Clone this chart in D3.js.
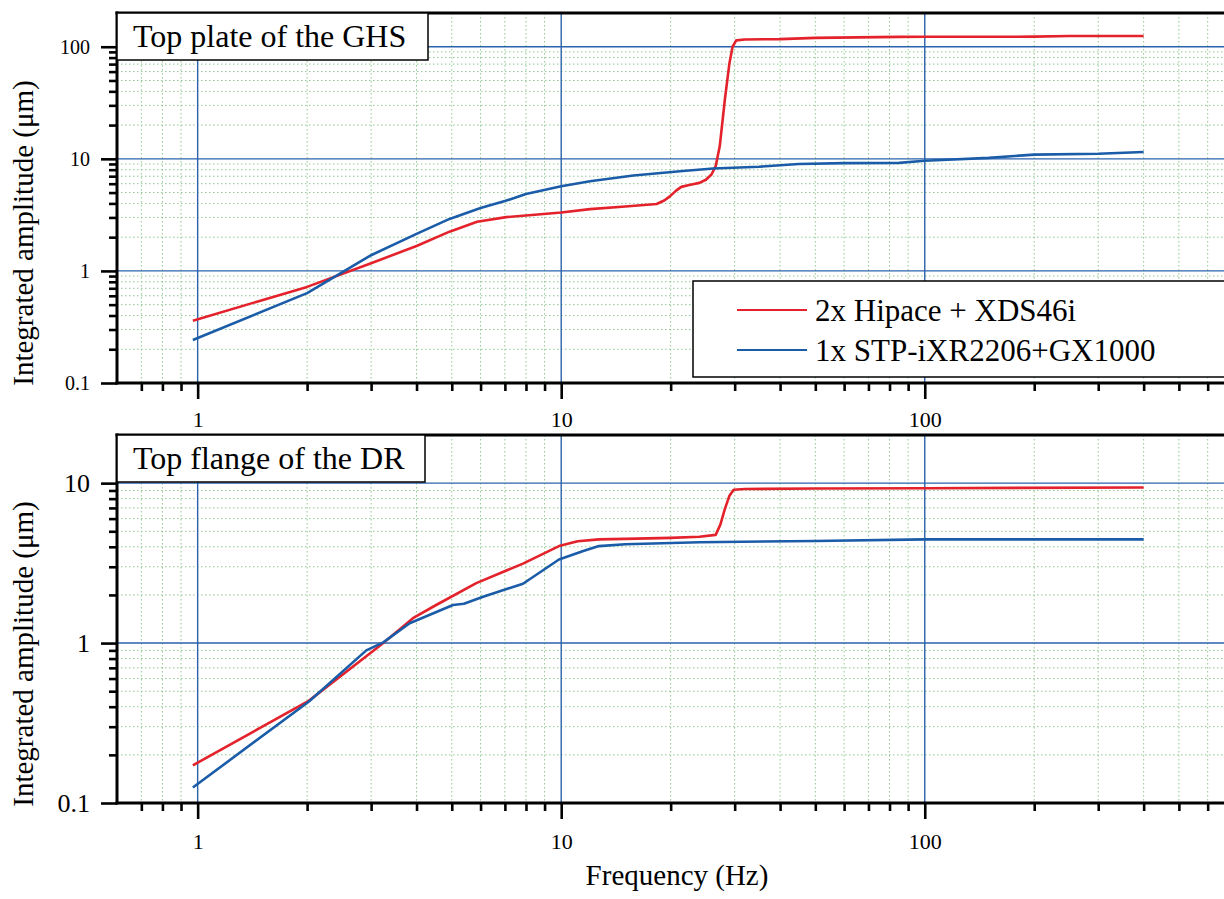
<!DOCTYPE html>
<html><head><meta charset="utf-8">
<script src="https://cdn.jsdelivr.net/npm/d3@7/dist/d3.min.js"></script>
<style>body{margin:0;background:#fff}svg{display:block}</style>
</head><body><svg id="c" width="1224" height="899"></svg>
<script>
// ---------- data ----------
const seriesNames = ["2x Hipace + XDS46i", "1x STP-iXR2206+GX1000"];
const seriesColors = ["#e3222c", "#1b5ca8"];
const xTickLabels = ["1", "10", "100"];
const topYTickLabels = ["0.1", "1", "10", "100"];
const botYTickLabels = ["0.1", "1", "10"];
const topPanelTitle = "Top plate of the GHS";
const botPanelTitle = "Top flange of the DR";
const xTitle = "Frequency (Hz)";
const yTitle = "Integrated amplitude (\u03bcm)";

// Top panel (GHS)
const topRedFreq = [0.97, 2, 3, 4, 4.93, 5.87, 7.06, 8, 10, 12, 15, 18.3, 19.2, 19.9, 20.7, 21.4, 22.5, 24, 25, 25.9, 26.6, 27.3, 28.2, 29, 29.6, 30.3, 32, 40, 50, 85, 100, 200, 250, 400];
const topRedAmp  = [0.36, 0.72, 1.17, 1.67, 2.24, 2.75, 3.02, 3.12, 3.32, 3.56, 3.75, 3.95, 4.25, 4.62, 5.2, 5.62, 5.85, 6.1, 6.5, 7.25, 8.6, 13, 34, 70, 100, 114, 116, 117, 120, 122.5, 122.7, 123, 124.5, 124.8];
const topBlueFreq = [0.97, 2, 3, 4, 4.93, 6, 7, 8, 10, 12, 15.8, 21.6, 26.2, 35, 45, 60, 85, 100, 150, 200, 300, 400];
const topBlueAmp  = [0.242, 0.634, 1.38, 2.14, 2.91, 3.64, 4.2, 4.86, 5.69, 6.3, 7.1, 7.8, 8.2, 8.5, 9.0, 9.15, 9.2, 9.6, 10.2, 10.9, 11.1, 11.5];

// Bottom panel (DR)
const botRedFreq = [0.97, 2.02, 2.97, 3.24, 3.91, 4.53, 5.84, 7.85, 9.86, 11.1, 12.7, 15, 20, 24, 26.6, 27.4, 28.2, 29, 29.8, 32, 50, 100, 400];
const botRedAmp  = [0.172, 0.435, 0.857, 1.0, 1.43, 1.73, 2.37, 3.14, 4.04, 4.33, 4.45, 4.48, 4.55, 4.62, 4.75, 5.5, 6.9, 8.3, 9.1, 9.2, 9.25, 9.3, 9.4];
const botBlueFreq = [0.97, 2.02, 2.91, 3.24, 3.83, 5.04, 5.4, 6.1, 7.85, 9.86, 11.5, 12.7, 15, 24, 50, 100, 400];
const botBlueAmp  = [0.125, 0.43, 0.90, 1.01, 1.33, 1.73, 1.76, 1.95, 2.35, 3.33, 3.76, 4.04, 4.15, 4.27, 4.35, 4.45, 4.45];

// ---------- drawing ----------
const svg = d3.select("#c");
svg.append("rect").attr("width", 1224).attr("height", 899).attr("fill", "#fff");
const FONT = "'Liberation Serif','Times New Roman',serif";

const x = d3.scaleLog().domain([0.6, 700]).range([117, 1232]);
const xMajor = xTickLabels.map(Number);
const xMinor = x.ticks().filter(v => !xMajor.includes(v) && v > 0.6);

function styleAxis(a, size) {
  a.selectAll(".domain").remove();
  a.selectAll(".tick line").attr("stroke", "#000").attr("stroke-width", 2.6);
  a.selectAll("text").attr("font-family", FONT).attr("font-size", size).attr("fill", "#000");
}

function panel(opts) {
  const {y, yLabels, series, title, titleBox, yLabelSize, xLabelPad, id, legend} = opts;
  const [yb, yt] = y.range();
  const L = x.range()[0], R = x.range()[1];
  const g = svg.append("g");
  const yMajor = yLabels.map(Number);
  const yMinor = y.ticks().filter(v => !yMajor.includes(v) && v < y.domain()[1]);

  // minor grid
  g.append("g").selectAll("line").data(xMinor).join("line")
    .attr("x1", d => x(d)).attr("x2", d => x(d)).attr("y1", yt).attr("y2", yb)
    .attr("stroke", "#8fc68f").attr("stroke-width", 1).attr("stroke-dasharray", "1.5,2.5");
  g.append("g").selectAll("line").data(yMinor).join("line")
    .attr("x1", L).attr("x2", R).attr("y1", d => y(d)).attr("y2", d => y(d))
    .attr("stroke", "#8fc68f").attr("stroke-width", 1).attr("stroke-dasharray", "1.5,2.5");
  // major grid
  g.append("g").selectAll("line").data(xMajor).join("line")
    .attr("x1", d => x(d)).attr("x2", d => x(d)).attr("y1", yt).attr("y2", yb)
    .attr("stroke", "#2a62ab").attr("stroke-width", 1.4);
  g.append("g").selectAll("line").data(yMajor.filter(v => v > y.domain()[0])).join("line")
    .attr("x1", L).attr("x2", R).attr("y1", d => y(d)).attr("y2", d => y(d))
    .attr("stroke", "#2a62ab").attr("stroke-width", 1.4);

  // data
  svg.append("clipPath").attr("id", id).append("rect")
    .attr("x", L).attr("y", yt).attr("width", R - L).attr("height", yb - yt);
  const line = d3.line().x(d => x(d[0])).y(d => y(d[1]));
  const dg = g.append("g").attr("clip-path", `url(#${id})`);
  series.forEach((s, i) => {
    dg.append("path").datum(d3.zip(s.f, s.a)).attr("d", line)
      .attr("fill", "none").attr("stroke", seriesColors[i]).attr("stroke-width", 2.6)
      .attr("stroke-linejoin", "round");
  });

  // axes (minor and major in separate groups)
  const axMin = g.append("g").attr("transform", `translate(0,${yb})`)
    .call(d3.axisBottom(x).tickValues(xMinor).tickSize(8).tickFormat(""));
  const axMaj = g.append("g").attr("transform", `translate(0,${yb})`)
    .call(d3.axisBottom(x).tickValues(xMajor).tickSize(16).tickPadding(xLabelPad).tickFormat((d, i) => xTickLabels[i]));
  const ayMin = g.append("g").attr("transform", `translate(${L},0)`)
    .call(d3.axisLeft(y).tickValues(yMinor).tickSize(8).tickFormat(""));
  const ayMaj = g.append("g").attr("transform", `translate(${L},0)`)
    .call(d3.axisLeft(y).tickValues(yMajor).tickSize(16).tickPadding(11).tickFormat((d, i) => yLabels[i]));
  styleAxis(axMin, 22); styleAxis(axMaj, 22);
  styleAxis(ayMin, yLabelSize); styleAxis(ayMaj, yLabelSize);

  // frame
  g.append("line").attr("x1", L - 1.5).attr("x2", R).attr("y1", yb).attr("y2", yb).attr("stroke", "#000").attr("stroke-width", 3);
  g.append("line").attr("x1", L - 1.5).attr("x2", R).attr("y1", yt).attr("y2", yt).attr("stroke", "#000").attr("stroke-width", 3);
  g.append("line").attr("x1", L).attr("x2", L).attr("y1", yt - 1.5).attr("y2", yb + 1.5).attr("stroke", "#000").attr("stroke-width", 3);

  // title box
  g.append("rect").attr("x", L).attr("y", yt).attr("width", titleBox).attr("height", 47)
    .attr("fill", "#fff").attr("stroke", "#000").attr("stroke-width", 1.5);
  g.append("text").attr("x", L + 16).attr("y", yt + 34).text(title)
    .attr("font-family", FONT).attr("font-size", 32).attr("fill", "#000");

  // y title
  g.append("text").attr("transform", `translate(33,${(yt + yb) / 2 + 35}) rotate(-90)`)
    .attr("text-anchor", "middle").text(yTitle)
    .attr("font-family", FONT).attr("font-size", 29).attr("fill", "#000");

  if (legend) {
    const lg = g.append("g");
    lg.append("rect").attr("x", 693).attr("y", 281).attr("width", 600).attr("height", 96)
      .attr("fill", "#fff").attr("stroke", "#000").attr("stroke-width", 1.5);
    seriesNames.forEach((n, i) => {
      const yy = 310 + i * 40;
      lg.append("line").attr("x1", 737).attr("x2", 807).attr("y1", yy).attr("y2", yy)
        .attr("stroke", seriesColors[i]).attr("stroke-width", 2.2);
      lg.append("text").attr("x", 815).attr("y", yy + 11).text(n)
        .attr("font-family", FONT).attr("font-size", 31).attr("fill", "#000");
    });
  }
}

const yTop = d3.scaleLog().domain([0.1, 200]).range([383, 13]);
const yBot = d3.scaleLog().domain([0.1, 20]).range([803, 435]);

panel({y: yTop, yLabels: topYTickLabels, title: topPanelTitle, titleBox: 311, yLabelSize: 20, xLabelPad: 12, id: "cpTop", legend: true,
  series: [{f: topRedFreq, a: topRedAmp}, {f: topBlueFreq, a: topBlueAmp}]});
panel({y: yBot, yLabels: botYTickLabels, title: botPanelTitle, titleBox: 308, yLabelSize: 26, xLabelPad: 14, id: "cpBot", legend: false,
  series: [{f: botRedFreq, a: botRedAmp}, {f: botBlueFreq, a: botBlueAmp}]});

svg.append("text").attr("x", 677).attr("y", 885).attr("text-anchor", "middle").text(xTitle)
  .attr("font-family", FONT).attr("font-size", 29).attr("fill", "#000");
</script></body></html>
